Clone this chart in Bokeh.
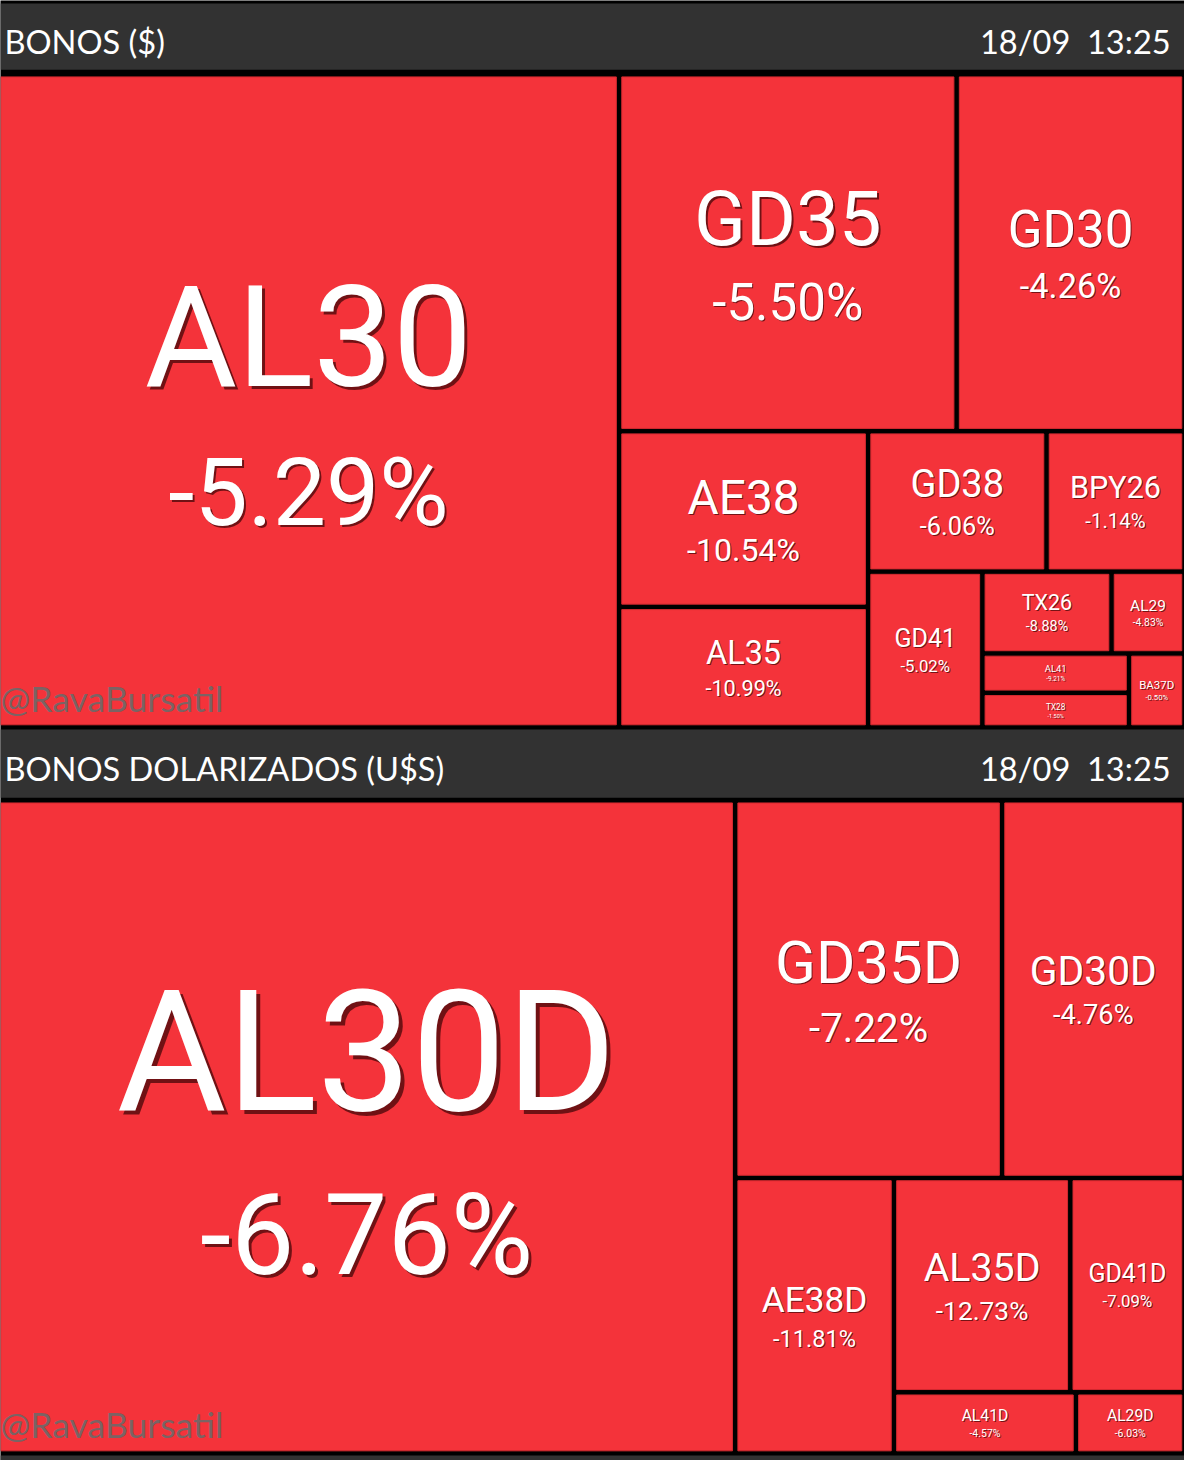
from bokeh.plotting import figure
from bokeh.models import ColumnDataSource, Range1d
from bokeh.embed import file_html
from bokeh.resources import INLINE
from bokeh.core.properties import value

# ---------------- data ----------------
titles = ["BONOS ($)", "BONOS DOLARIZADOS (U$S)"]
stamp = "18/09\u00a0\u00a013:25"
watermark = "@RavaBursatil"

peso_tickers = ["AL30", "GD35", "GD30", "AE38", "AL35", "GD38", "BPY26",
                "GD41", "TX26", "AL29", "AL41", "TX28", "BA37D"]
peso_volume = [414.5, 123.1, 83.1, 44.7, 30.7, 25.6, 19.8,
               18.2, 10.8, 6.1, 5.9, 5.2, 4.2]
peso_change = [-5.29, -5.50, -4.26, -10.54, -10.99, -6.06, -1.14,
               -5.02, -8.88, -4.83, -9.21, -1.50, -0.50]
peso_rows = [0, 1, 1, 2, 2, 3, 3, 4, 5, 5, 6, 6, 7]

usd_tickers = ["AL30D", "GD35D", "GD30D", "AE38D", "AL35D", "GD41D", "AL41D", "AL29D"]
usd_volume = [492.0, 103.0, 70.4, 44.7, 38.6, 25.0, 11.4, 6.8]
usd_change = [-6.76, -7.22, -4.76, -11.81, -12.73, -7.09, -4.57, -6.03]
usd_rows = [0, 1, 1, 2, 3, 3, 4, 5]

# ---------------- styling / layout constants ----------------
W, H = 1200, 1476
PW, PH = 1184, 1460
FS = PH / H
GAP = 5.5
RED = "#F4333A"
EDGE = "#D42A30"
HEADER = "#323232"
LABEL_FONT = "Roboto"
HEAD_FONT = "Lato"
K_ROBOTO = 0.36   # baseline correction (fraction of font size)
K_LATO = 0.42
HEAD_SIZE = 33
WM_SIZE = 36

panels = [
    dict(tickers=peso_tickers, vol=peso_volume, chg=peso_change, rows=peso_rows,
         head=(3, 70), box=(-2.5, 74.5, 1200, 735), head_base=55, wm_base=721),
    dict(tickers=usd_tickers, vol=usd_volume, chg=usd_change, rows=usd_rows,
         head=(737, 806), box=(-2.5, 808.5, 1200, 1469), head_base=790, wm_base=1455),
]


def layout(vols, rows, x0, y0, x1, y1):
    """Strip treemap: groups alternate between a column at the left and a row on top."""
    rects = [None] * len(vols)
    groups = {}
    for i, r in enumerate(rows):
        groups.setdefault(r, []).append(i)
    remaining = float(sum(vols))
    vertical = True
    for g in sorted(groups):
        idx = groups[g]
        s = float(sum(vols[i] for i in idx))
        if vertical:
            w = (x1 - x0) * s / remaining
            yy = y0
            for i in idx:
                h = (y1 - y0) * vols[i] / s
                rects[i] = (x0, yy, x0 + w, yy + h)
                yy += h
            x0 += w
        else:
            h = (y1 - y0) * s / remaining
            xx = x0
            for i in idx:
                w = (x1 - x0) * vols[i] / s
                rects[i] = (xx, y0, xx + w, y0 + h)
                xx += w
            y0 += h
        remaining -= s
        vertical = not vertical
    return rects


p = figure(width=PW, height=PH, x_range=Range1d(0, W), y_range=Range1d(H, 0),
           output_backend="svg", toolbar_location=None, min_border=0,
           x_axis_location=None, y_axis_location=None,
           background_fill_color="black", border_fill_color="black")
p.grid.visible = False
p.outline_line_color = None

# header bars and bottom strip
hb = dict(left=[], right=[], top=[], bottom=[])
for pn in panels:
    hb["left"].append(0); hb["right"].append(W)
    hb["top"].append(pn["head"][0]); hb["bottom"].append(pn["head"][1])
hb["left"].append(0); hb["right"].append(W); hb["top"].append(1471); hb["bottom"].append(H)
p.quad(left="left", right="right", top="top", bottom="bottom", source=ColumnDataSource(hb),
       fill_color=HEADER, line_color=None)

cells = dict(left=[], right=[], top=[], bottom=[])
lab = dict(x=[], y=[], text=[], fs=[], off=[])
heads = dict(x=[], y=[], text=[], align=[])
wms = dict(x=[], y=[])

for k, pn in enumerate(panels):
    rects = layout(pn["vol"], pn["rows"], *pn["box"])
    g = GAP / 2
    for t, c, (l, tp, r, b) in zip(pn["tickers"], pn["chg"], rects):
        l2, r2, t2, b2 = max(l + g, 0), r - g, tp + g, b - g
        cells["left"].append(l2); cells["right"].append(r2)
        cells["top"].append(t2); cells["bottom"].append(b2)
        w, h = r2 - l2, b2 - t2
        cx, cy = (l2 + r2) / 2, (t2 + b2) / 2
        cap = min(0.163 * w, 0.2 * h, 0.82 * w / len(t))
        F = cap / 0.711
        Fp = 0.67 * F
        off = max(1, round(F * 0.022))
        lab["x"] += [cx, cx]
        lab["y"] += [cy - 0.12 * cap - K_ROBOTO * F, cy + 1.25 * cap - K_ROBOTO * Fp]
        lab["text"] += [t, f"{c:.2f}%"]
        lab["fs"] += [f"{F * FS:.1f}px", f"{Fp * FS:.1f}px"]
        lab["off"] += [off, max(1, round(F * 0.016))]
    heads["x"] += [4, 1186]
    heads["y"] += [pn["head_base"] - K_LATO * HEAD_SIZE] * 2
    heads["text"] += [titles[k], stamp]
    heads["align"] += ["left", "right"]
    wms["x"].append(0)
    wms["y"].append(pn["wm_base"] - K_LATO * WM_SIZE)

p.quad(left="left", right="right", top="top", bottom="bottom", source=ColumnDataSource(cells),
       fill_color=RED, line_color=EDGE, line_width=1)

wms["text"] = [watermark] * len(wms["x"])
p.text(x="x", y="y", text="text", source=ColumnDataSource(wms), text_font=value(HEAD_FONT),
       text_font_size=f"{WM_SIZE * FS:.1f}px", text_color="#6a6a6a", text_alpha=0.9,
       text_align="left", text_baseline="alphabetic")

lsrc = ColumnDataSource(lab)
p.text(x="x", y="y", text="text", source=lsrc, text_font=value(LABEL_FONT),
       text_font_size="fs", text_color="#2a0000", text_alpha=0.65,
       x_offset="off", y_offset="off", text_align="center", text_baseline="alphabetic")
p.text(x="x", y="y", text="text", source=lsrc, text_font=value(LABEL_FONT),
       text_font_size="fs", text_color="white",
       text_align="center", text_baseline="alphabetic")

hsrc = ColumnDataSource(heads)
p.text(x="x", y="y", text="text", source=hsrc, text_font=value(HEAD_FONT),
       text_font_size=f"{HEAD_SIZE * FS:.1f}px", text_color="white",
       text_align="align", text_baseline="alphabetic")

open("out.html", "w").write(file_html(p, INLINE))
